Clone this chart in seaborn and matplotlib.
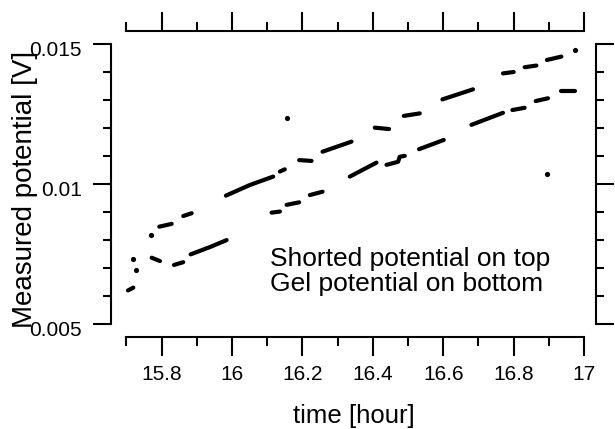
import matplotlib
matplotlib.use("Agg")
import numpy as np
import pandas as pd
import seaborn as sns
import matplotlib.pyplot as plt
from matplotlib.ticker import FixedLocator
from matplotlib.transforms import ScaledTranslation

# ---- data ----
# Shorted potential (upper trace), dashed runs of samples
top_t = [15.7934, 15.8286, 15.8615, 15.8854, 15.9827, 16.0508, 16.117,
         16.136, 16.150, 16.1908, 16.226, 16.2572, 16.3395, 16.4057, 16.4462,
         16.488, 16.5334, 16.5978, 16.6847, 16.7698, 16.8002, 16.8314, 16.8647,
         16.8947, 16.9356]
top_v = [0.00848, 0.00858, 0.00886, 0.00896, 0.00959, 0.00997, 0.01027,
         0.01045, 0.01053, 0.01086, 0.01083, 0.01116, 0.01152, 0.01202, 0.01197,
         0.01244, 0.01253, 0.01303, 0.01339, 0.01396, 0.01401, 0.01418, 0.01424,
         0.01444, 0.01456]
top_seg = ["a2", "a2", "a3", "a3", "a4", "a4", "a4",
           "a5", "a5", "a6", "a6", "a7", "a7", "a8", "a8",
           "a9", "a9", "a10", "a10", "a11", "a11", "a12", "a12",
           "a13", "a13"]

# Gel potential (lower trace)
bot_t = [15.7045, 15.7196, 15.7718, 15.7954, 15.8351, 15.8615, 15.8825, 15.9373,
         15.9847, 16.1124, 16.136, 16.155, 16.1908, 16.2212, 16.2572, 16.3347,
         16.4105, 16.4389, 16.4718, 16.4766, 16.4908, 16.5314, 16.6015, 16.6801,
         16.7698, 16.7965, 16.8314, 16.8627, 16.8976, 16.9356, 16.9734]
bot_v = [0.00620, 0.00630, 0.00737, 0.00725, 0.00711, 0.00721, 0.00749, 0.00775,
         0.00800, 0.00898, 0.00902, 0.00926, 0.00935, 0.00961, 0.00973, 0.01027,
         0.01077, 0.01069, 0.01080, 0.01098, 0.01101, 0.01125, 0.01158, 0.01212,
         0.01255, 0.01265, 0.01273, 0.01297, 0.01307, 0.01333, 0.01333]
bot_seg = ["b0", "b0", "b1", "b1", "b2", "b2", "b3", "b3",
           "b3", "b4", "b4", "b5", "b5", "b6", "b6", "b7",
           "b7", "b8", "b8", "b8", "b8", "b9", "b9", "b10",
           "b10", "b11", "b11", "b12", "b12", "b13", "b13"]

# isolated single samples
dot_t = [15.7196, 15.769, 16.9734, 16.155, 15.7272, 16.8947]
dot_v = [0.00731, 0.00818, 0.01480, 0.01238, 0.00693, 0.01037]

x_major = [15.8, 16.0, 16.2, 16.4, 16.6, 16.8, 17.0]
x_major_labels = ["15.8", "16", "16.2", "16.4", "16.6", "16.8", "17"]
x_minor = [15.7, 15.9, 16.1, 16.3, 16.5, 16.7, 16.9]
y_major = [0.005, 0.01, 0.015]
y_major_labels = ["0.005", "0.01", "0.015"]
y_minor = [0.006, 0.007, 0.008, 0.009, 0.011, 0.012, 0.013, 0.014]

# ---- style ----
sns.set_theme(style="white", rc={"axes.edgecolor": "black",
                                 "xtick.color": "black", "ytick.color": "black",
                                 "text.color": "black", "axes.labelcolor": "black"})
plt.rcParams["font.family"] = ["Liberation Sans", "DejaVu Sans"]

fig = plt.figure(figsize=(6.15, 4.29), dpi=100)
ax = fig.add_axes([126.4 / 615, 105 / 429, (584 - 126.4) / 615, (324 - 44.3) / 429])

df = pd.DataFrame({"t": top_t + bot_t, "V": top_v + bot_v, "seg": top_seg + bot_seg})
sns.lineplot(data=df, x="t", y="V", units="seg", estimator=None, color="black",
             lw=3.0, solid_capstyle="round", ax=ax, legend=False)
sns.scatterplot(x=dot_t, y=dot_v, color="black", s=14, linewidth=0, ax=ax, legend=False)

ax.set_xlim(15.7, 17.0)
ax.set_ylim(0.005, 0.015)
ax.set_xlabel("")
ax.set_ylabel("")

ax.set_xticks(x_major)
ax.set_xticklabels(x_major_labels)
ax.xaxis.set_minor_locator(FixedLocator(x_minor))
ax.set_yticks(y_major)
ax.set_yticklabels(y_major_labels)
ax.yaxis.set_minor_locator(FixedLocator(y_minor))

ax.tick_params(axis="both", which="both", direction="out", top=True, bottom=True,
               left=True, right=True, labeltop=False, labelright=False,
               width=1.5, color="black")
ax.tick_params(axis="x", which="major", length=14, pad=6, labelsize=15)
ax.tick_params(axis="x", which="minor", length=6.5)
ax.tick_params(axis="y", which="major", length=13, pad=7.7, labelsize=15)
ax.tick_params(axis="y", which="minor", length=6)

for name, off in [("left", 11.3), ("bottom", 9.4), ("top", 9.6), ("right", 8.6)]:
    sp = ax.spines[name]
    sp.set_visible(True)
    sp.set_color("black")
    sp.set_linewidth(1.5)
    sp.set_position(("outward", off))

offset = ScaledTranslation(0, -4 / 100, fig.dpi_scale_trans)
for lab in ax.get_yticklabels():
    lab.set_transform(lab.get_transform() + offset)

fig.text(25 / 615, 1 - 189 / 429, "Measured potential [V]", rotation=90,
         ha="center", va="center", fontsize=20)
fig.text(354 / 615, 1 - 416 / 429, "time [hour]", ha="center", va="center", fontsize=18.5)
fig.text(270 / 615, 1 - 247 / 429, "Shorted potential on top\nGel potential on bottom",
         ha="left", va="top", fontsize=19, linespacing=1.05)

fig.savefig("out.png", dpi=100)
